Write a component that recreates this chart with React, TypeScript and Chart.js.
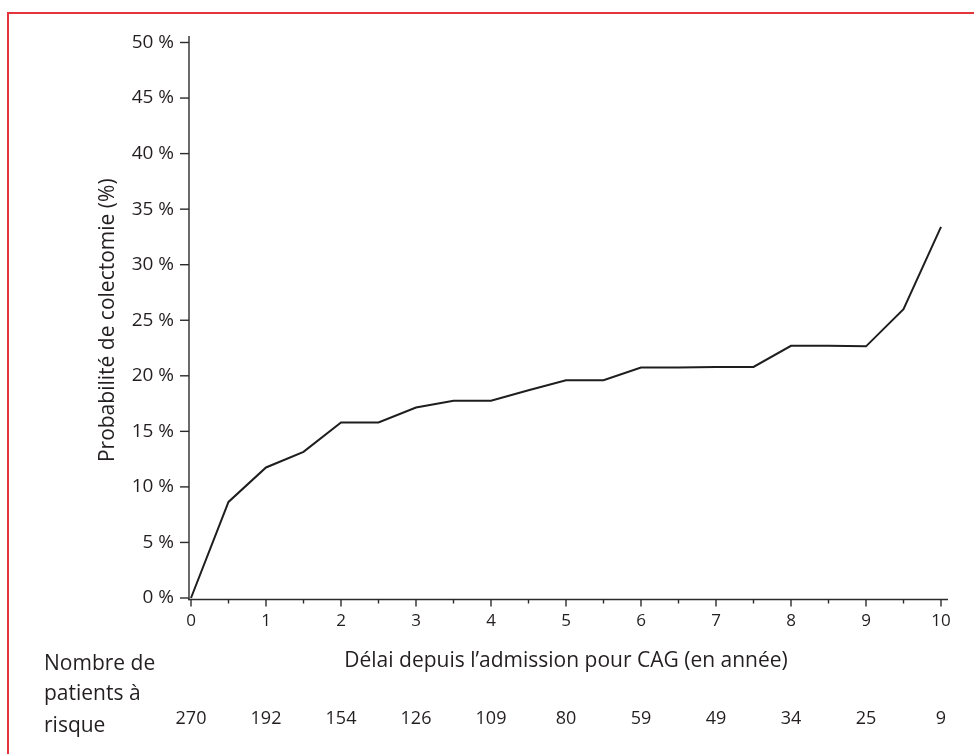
import React, { useEffect, useRef } from 'react';
import { Chart, registerables } from 'chart.js';

Chart.register(...registerables);

// ---- Data ----
const years = [0, 0.5, 1, 1.5, 2, 2.5, 3, 3.5, 4, 4.5, 5, 5.5, 6, 6.5, 7, 7.5, 8, 8.5, 9, 9.5, 10];
const probability = [0, 8.65, 11.75, 13.15, 15.8, 15.8, 17.15, 17.75, 17.75, 18.7, 19.6, 19.6, 20.75, 20.75, 20.8, 20.8, 22.7, 22.7, 22.65, 26.0, 33.4];
const riskYears = [0, 1, 2, 3, 4, 5, 6, 7, 8, 9, 10];
const atRisk = [270, 192, 154, 126, 109, 80, 59, 49, 34, 25, 9];
const riskLabelLines = ['Nombre de', 'patients à', 'risque'];
const xTitle = 'Délai depuis l’admission pour CAG (en année)';
const yTitle = 'Probabilité de colectomie (%)';
const yMax = 50;
const yStep = 5;
const xMax = 10;
const xStep = 1;

const FONT = "'Open Sans', 'DejaVu Sans', sans-serif";
const INK = '#231f20';

const axesPlugin = {
  id: 'customAxes',
  afterDraw(chart: any) {
    const ctx = chart.ctx as CanvasRenderingContext2D;
    const { left, top, bottom } = chart.chartArea;
    const xs = chart.scales.x;
    const ys = chart.scales.y;
    const ax = left - 2;
    const ay = bottom + 1.5;
    ctx.save();
    ctx.strokeStyle = '#2b2b2b';
    ctx.lineWidth = 1.4;
    // y axis line
    ctx.beginPath();
    ctx.moveTo(ax, top - 6.5);
    ctx.lineTo(ax, ay + 0.7);
    ctx.stroke();
    // y ticks
    ys.ticks.forEach((t: any) => {
      const py = ys.getPixelForValue(t.value);
      ctx.beginPath();
      ctx.moveTo(ax - 9, py);
      ctx.lineTo(ax, py);
      ctx.stroke();
    });
    // x axis line
    ctx.beginPath();
    ctx.moveTo(ax - 0.7, ay);
    ctx.lineTo(xs.getPixelForValue(xMax) + 7, ay);
    ctx.stroke();
    // x ticks major + minor
    xs.ticks.forEach((t: any) => {
      const px = xs.getPixelForValue(t.value);
      ctx.beginPath();
      ctx.moveTo(px, ay);
      ctx.lineTo(px, ay + 7);
      ctx.stroke();
      if (t.value < xMax) {
        const pm = xs.getPixelForValue(t.value + xStep / 2);
        ctx.beginPath();
        ctx.moveTo(pm, ay);
        ctx.lineTo(pm, ay + 4);
        ctx.stroke();
      }
    });

    // Numbers at risk
    ctx.fillStyle = INK;
    ctx.font = `18px ${FONT}`;
    ctx.textAlign = 'center';
    ctx.textBaseline = 'alphabetic';
    riskYears.forEach((yr, i) => {
      ctx.fillText(String(atRisk[i]), xs.getPixelForValue(yr), 723.5);
    });
    ctx.font = `21px ${FONT}`;
    ctx.textAlign = 'left';
    const baselines = [670, 699.5, 731.5];
    riskLabelLines.forEach((line, i) => {
      ctx.fillText(line, 44, baselines[i]);
    });
    ctx.restore();
  },
};

export default function App() {
  const ref = useRef<HTMLCanvasElement | null>(null);

  useEffect(() => {
    if (!ref.current) return;
    const chart = new Chart(ref.current, {
      type: 'line',
      data: {
        datasets: [
          {
            data: years.map((x, i) => ({ x, y: probability[i] })),
            borderColor: '#1e1e1e',
            borderWidth: 2,
            pointRadius: 0,
            tension: 0,
            fill: false,
            clip: false as any,
          },
        ],
      },
      options: {
        animation: false,
        responsive: false,
        maintainAspectRatio: false,
        layout: { padding: { left: 0, top: 42.5, right: 33, bottom: 66 } },
        plugins: {
          legend: { display: false },
          tooltip: { enabled: false },
        },
        scales: {
          x: {
            type: 'linear',
            min: 0,
            max: xMax,
            grid: { display: false, drawTicks: false },
            border: { display: false },
            ticks: {
              stepSize: xStep,
              padding: 13,
              color: INK,
              font: { family: FONT, size: 17 },
              maxRotation: 0,
              autoSkip: false,
            },
            title: {
              display: true,
              text: xTitle,
              color: INK,
              font: { family: FONT, size: 21 },
              padding: { top: 0, bottom: 14 },
            },
            afterFit: (scale: any) => {
              scale.height = 90;
            },
          },
          y: {
            type: 'linear',
            min: 0,
            max: yMax,
            grid: { display: false, drawTicks: false },
            border: { display: false },
            ticks: {
              stepSize: yStep,
              padding: 17,
              color: INK,
              font: { family: FONT, size: 19 },
              callback: (v: any) => `${v} %`,
            },
            title: {
              display: true,
              text: yTitle,
              color: INK,
              font: { family: FONT, size: 21 },
              padding: { top: 95, bottom: 0 },
            },
            afterFit: (scale: any) => {
              scale.width = 191;
            },
          },
        },
      },
      plugins: [axesPlugin],
    });
    return () => chart.destroy();
  }, []);

  return (
    <div style={{ position: 'absolute', left: 0, top: 0, width: 974, height: 754, overflow: 'hidden', background: '#fff' }}>
      <div
        style={{
          position: 'absolute',
          left: 6.5,
          top: 11.5,
          width: 1200,
          height: 1000,
          borderLeft: '2px solid #e4343c',
          borderTop: '2px solid #e4343c',
          boxSizing: 'border-box',
        }}
      />
      <canvas ref={ref} width={974} height={754} style={{ position: 'absolute', left: 0, top: 0 }} />
    </div>
  );
}
